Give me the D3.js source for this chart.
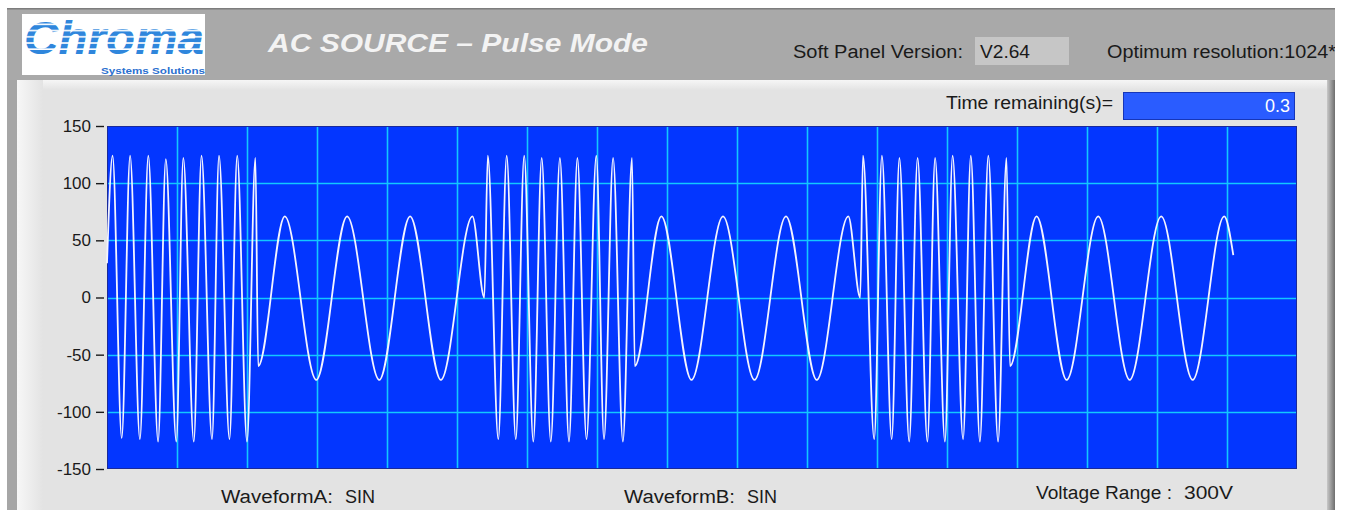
<!DOCTYPE html>
<html>
<head>
<meta charset="utf-8">
<script src="https://cdn.jsdelivr.net/npm/d3@7"></script>
<style>
  html, body { margin: 0; padding: 0; background: #ffffff; }
  svg { display: block; }
  text { font-family: "Liberation Sans", Arial, sans-serif; }
</style>
</head>
<body>
<svg id="chart" width="1349" height="510"></svg>
<script>
// ---------------- data ----------------
const yTicks = [-150, -100, -50, 0, 50, 100, 150];
const xDivisions = [0, 17];            // 17 grid divisions across the screen
const gridX = [1, 2, 3, 4, 5, 6, 7, 8, 9, 10, 11, 12, 13, 14, 15, 16];
const gridY = [-100, -50, 0, 50, 100];

// waveform turning points (time in divisions, voltage)
const waveTime = [
  0.00, 0.08, 0.21, 0.33, 0.47, 0.59, 0.73, 0.84, 0.99, 1.09, 1.24, 1.35, 1.50, 1.60, 1.75, 1.86, 2.00, 2.12,
  2.16, 2.54, 2.99, 3.43, 3.89, 4.33, 4.77, 5.22, 5.39,
  5.44, 5.59, 5.71, 5.84, 5.96, 6.09, 6.21, 6.34, 6.47, 6.60, 6.72, 6.85, 6.99, 7.10, 7.23, 7.37, 7.50,
  7.54, 7.92, 8.35, 8.80, 9.25, 9.70, 10.14, 10.59, 10.76,
  10.80, 10.96, 11.07, 11.21, 11.32, 11.46, 11.58, 11.72, 11.83, 11.97, 12.08, 12.23, 12.34, 12.47, 12.59, 12.73, 12.85,
  12.90, 13.28, 13.71, 14.16, 14.61, 15.06, 15.51, 15.96, 16.09
];
const waveVolt = [
  30, 124, -123, 124, -124, 124, -126, 121, -126, 122, -126, 124, -124, 124, -124, 124, -126, 122,
  -60, 71, -72, 71, -72, 71, -72, 71, 0,
  124, -124, 124, -124, 124, -126, 122, -126, 122, -126, 122, -124, 124, -124, 122, -126, 122,
  -60, 71, -72, 71, -72, 71, -72, 71, 0,
  124, -124, 124, -124, 122, -126, 122, -126, 122, -126, 124, -124, 124, -126, 124, -126, 122,
  -60, 71, -72, 71, -72, 71, -72, 71, 37
];

const titleText = "AC SOURCE \u2013 Pulse Mode";
const versionLabel = "Soft Panel Version:";
const versionValue = "V2.64";
const resolutionText = "Optimum resolution:1024*768";
const timeLabel = "Time remaining(s)=";
const timeValue = "0.3";
const waveformALabel = "WaveformA:";
const waveformAValue = "SIN";
const waveformBLabel = "WaveformB:";
const waveformBValue = "SIN";
const rangeLabel = "Voltage Range :";
const rangeValue = "300V";

// ---------------- drawing ----------------
const svg = d3.select("#chart");
const defs = svg.append("defs");

// gradients
const gLeft = defs.append("linearGradient").attr("id", "gLeft").attr("x1", 0).attr("x2", 1);
gLeft.append("stop").attr("offset", 0).attr("stop-color", "#f7f7f7");
gLeft.append("stop").attr("offset", 1).attr("stop-color", "#e3e3e3");
const gRight = defs.append("linearGradient").attr("id", "gRight").attr("x1", 0).attr("x2", 1);
gRight.append("stop").attr("offset", 0).attr("stop-color", "#c8c8c8");
gRight.append("stop").attr("offset", 1).attr("stop-color", "#6e6e6e");
const gTop = defs.append("linearGradient").attr("id", "gTop").attr("x1", 0).attr("x2", 0).attr("y1", 0).attr("y2", 1);
gTop.append("stop").attr("offset", 0).attr("stop-color", "#f6f6f6");
gTop.append("stop").attr("offset", 1).attr("stop-color", "#e3e3e3");

// striped logo pattern
const pat = defs.append("pattern").attr("id", "stripes").attr("patternUnits", "userSpaceOnUse")
  .attr("width", 10).attr("height", 6.2).attr("y", 19);
pat.append("rect").attr("width", 10).attr("height", 6.2).attr("fill", "#2f86dc");
pat.append("rect").attr("y", 4.6).attr("width", 10).attr("height", 1.6).attr("fill", "#ffffff");

defs.append("clipPath").attr("id", "hdrClip")
  .append("rect").attr("x", 0).attr("y", 0).attr("width", 1335).attr("height", 80);

// header
svg.append("rect").attr("x", 7).attr("y", 8).attr("width", 1328).attr("height", 72).attr("fill", "#a9a9a9");
svg.append("rect").attr("x", 7).attr("y", 8).attr("width", 1328).attr("height", 1.5).attr("fill", "#7d7d7d");

// logo
svg.append("rect").attr("x", 22).attr("y", 14).attr("width", 183).attr("height", 61).attr("fill", "#ffffff");
svg.append("text").attr("x", 24).attr("y", 54).attr("font-size", 47).attr("font-weight", "bold")
  .attr("font-style", "italic").attr("textLength", 180).attr("lengthAdjust", "spacingAndGlyphs")
  .attr("fill", "url(#stripes)").text("Chroma");
svg.append("text").attr("x", 101).attr("y", 73.5).attr("font-size", 9.5).attr("font-weight", "bold")
  .attr("textLength", 104).attr("lengthAdjust", "spacingAndGlyphs")
  .attr("fill", "#2a6fcf").text("Systems Solutions");

// title
svg.append("text").attr("x", 268).attr("y", 52).attr("font-size", 26).attr("font-weight", "bold")
  .attr("font-style", "italic").attr("textLength", 380).attr("lengthAdjust", "spacingAndGlyphs")
  .attr("fill", "#f3f3f3").text(titleText);

// version
svg.append("text").attr("x", 793).attr("y", 58).attr("font-size", 18)
  .attr("textLength", 170).attr("lengthAdjust", "spacingAndGlyphs").attr("fill", "#1a1a1a").text(versionLabel);
svg.append("rect").attr("x", 975).attr("y", 37).attr("width", 94).attr("height", 28).attr("fill", "#c6c6c6");
svg.append("text").attr("x", 980).attr("y", 58).attr("font-size", 18)
  .attr("textLength", 50).attr("lengthAdjust", "spacingAndGlyphs").attr("fill", "#1a1a1a").text(versionValue);
svg.append("g").attr("clip-path", "url(#hdrClip)")
  .append("text").attr("x", 1107).attr("y", 58).attr("font-size", 18)
  .attr("textLength", 262).attr("lengthAdjust", "spacingAndGlyphs").attr("fill", "#1a1a1a").text(resolutionText);

// panel
svg.append("rect").attr("x", 7).attr("y", 80).attr("width", 10).attr("height", 430).attr("fill", "#a6a6a6");
svg.append("rect").attr("x", 17).attr("y", 80).attr("width", 1311).attr("height", 430).attr("fill", "#e3e3e3");
svg.append("rect").attr("x", 17).attr("y", 80).attr("width", 1311).attr("height", 10).attr("fill", "url(#gTop)");
svg.append("rect").attr("x", 17).attr("y", 80).attr("width", 26).attr("height", 430).attr("fill", "url(#gLeft)");
svg.append("rect").attr("x", 1327).attr("y", 80).attr("width", 8).attr("height", 430).attr("fill", "url(#gRight)");

// time remaining
svg.append("text").attr("x", 946).attr("y", 109).attr("font-size", 18)
  .attr("textLength", 167).attr("lengthAdjust", "spacingAndGlyphs").attr("fill", "#1a1a1a").text(timeLabel);
svg.append("rect").attr("x", 1123.5).attr("y", 92.5).attr("width", 171).attr("height", 27)
  .attr("fill", "#2a5cff").attr("stroke", "#1636b8").attr("stroke-width", 1);
svg.append("text").attr("x", 1290).attr("y", 112).attr("font-size", 18).attr("text-anchor", "end")
  .attr("fill", "#ffffff").text(timeValue);

// plot
const plotL = 107, plotR = 1297, plotT = 126, plotB = 469;
const x = d3.scaleLinear().domain(xDivisions).range([plotL, plotR]);
const y = d3.scaleLinear().domain([-150, 150]).range([plotB, plotT]);

svg.append("rect").attr("x", plotL).attr("y", plotT).attr("width", plotR - plotL).attr("height", plotB - plotT)
  .attr("fill", "#0336ff");

const grid = svg.append("g").attr("stroke", "#12c8ff").attr("stroke-width", 1.6);
grid.selectAll("line.v").data(gridX).join("line").attr("class", "v")
  .attr("x1", d => Math.round(x(d)) + 0.5).attr("x2", d => Math.round(x(d)) + 0.5)
  .attr("y1", plotT).attr("y2", plotB);
grid.selectAll("line.h").data(gridY).join("line").attr("class", "h")
  .attr("y1", d => Math.round(y(d)) + 0.5).attr("y2", d => Math.round(y(d)) + 0.5)
  .attr("x1", plotL).attr("x2", plotR);

svg.append("rect").attr("x", plotL + 0.5).attr("y", plotT + 0.5).attr("width", plotR - plotL - 1)
  .attr("height", plotB - plotT - 1).attr("fill", "none").attr("stroke", "#1a2a9a").attr("stroke-width", 1);

const wave = waveTime.map((t, i) => ({ t: t, v: waveVolt[i] }));
const line = d3.line().x(d => x(d.t)).y(d => y(d.v)).curve(d3.curveMonotoneX);
svg.append("path").datum(wave).attr("d", line).attr("fill", "none")
  .attr("stroke", "#f4f4ff").attr("stroke-width", 1.8).attr("stroke-linejoin", "round");

// y axis
const yAxis = d3.axisLeft(y).tickValues(yTicks).tickSize(8).tickSizeOuter(0).tickPadding(5)
  .tickFormat(d => String(d));
const ay = svg.append("g").attr("transform", `translate(${plotL - 3},0)`).call(yAxis);
ay.select(".domain").remove();
ay.selectAll(".tick line").attr("stroke", "#1a1a1a").attr("stroke-width", 1.4);
ay.selectAll(".tick text").attr("font-size", 17).attr("fill", "#1a1a1a")
  .attr("font-family", "'Liberation Sans', Arial, sans-serif");

// bottom labels
const bottom = [
  { t: waveformALabel, x: 221, w: 112, y: 503 },
  { t: waveformAValue, x: 345, w: 30, y: 503 },
  { t: waveformBLabel, x: 624, w: 111, y: 503 },
  { t: waveformBValue, x: 747, w: 30, y: 503 },
  { t: rangeLabel, x: 1036, w: 136, y: 499 },
  { t: rangeValue, x: 1184, w: 49, y: 499 }
];
svg.selectAll("text.bl").data(bottom).join("text").attr("class", "bl")
  .attr("x", d => d.x).attr("y", d => d.y).attr("font-size", 18)
  .attr("textLength", d => d.w).attr("lengthAdjust", "spacingAndGlyphs")
  .attr("fill", "#1a1a1a").text(d => d.t);
</script>
</body>
</html>
